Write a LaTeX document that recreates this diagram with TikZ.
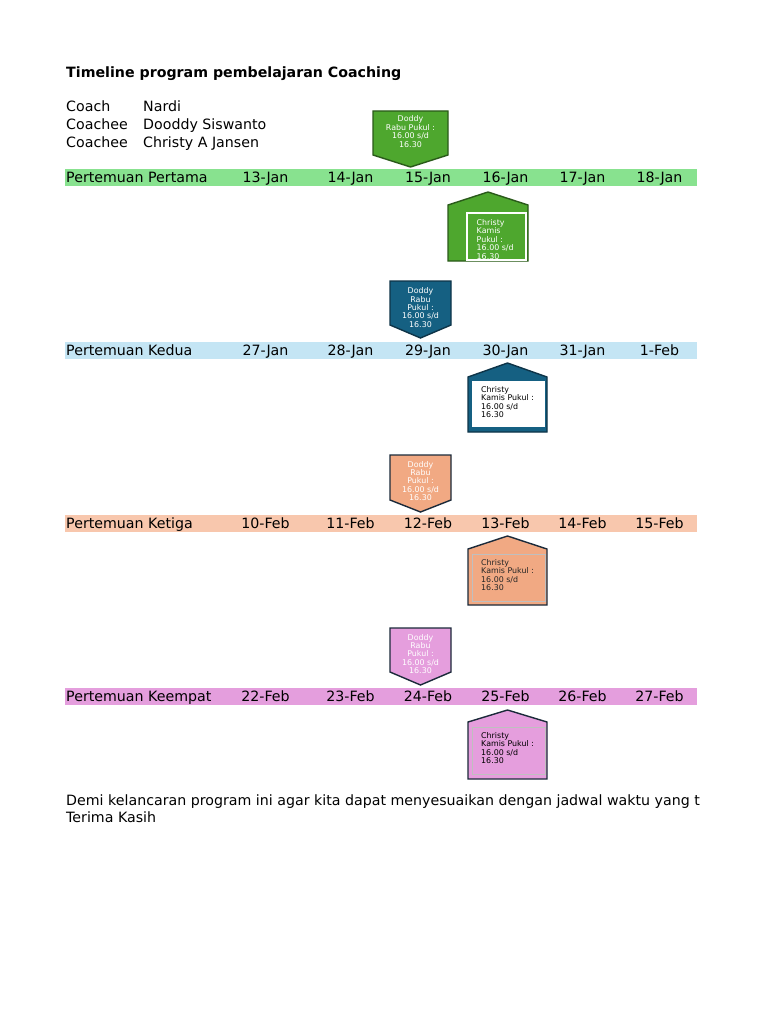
\documentclass[tikz,border=0pt]{standalone}
\usepackage{fontspec}
\setmainfont{DejaVu Sans}
\definecolor{bandA}{HTML}{88E28F}
\definecolor{bandB}{HTML}{C4E5F4}
\definecolor{bandC}{HTML}{F8C7AD}
\definecolor{bandD}{HTML}{E49EDD}
\definecolor{shpA}{HTML}{4EA72E}
\definecolor{edgeA}{HTML}{2A5A1A}
\definecolor{shpB}{HTML}{156082}
\definecolor{edgeB}{HTML}{0E3448}
\definecolor{shpC}{HTML}{F1A983}
\definecolor{shpD}{HTML}{E59EDD}
\definecolor{edgeN}{HTML}{1B2A3A}
\definecolor{innerline}{HTML}{BFBFBF}
\begin{document}
\begin{tikzpicture}[x=1pt,y=-1pt,
  txt/.style={font=\fontsize{14.2}{17.5}\selectfont, inner sep=0pt, anchor=base west},
  dt/.style={font=\fontsize{14.2}{17.5}\selectfont, inner sep=0pt, anchor=base},
  ttl/.style={font=\bfseries\fontsize{14.2}{17.5}\selectfont, inner sep=0pt, anchor=base west},
  small/.style={font=\fontsize{7.9}{8.4}\selectfont, inner sep=0pt},
  dshape/.style={line width=1.4pt, line join=miter},
]
\useasboundingbox[fill=white] (0,0) rectangle (768,1024);

% header
\node[ttl] (title) at (66,78) {Timeline program pembelajaran Coaching};
\node[txt] (l1a) at (66,112) {Coach};
\node[txt] (l1b) at (143,112) {Nardi};
\node[txt] (l2a) at (66,130) {Coachee};
\node[txt] (l2b) at (143,130) {Dooddy Siswanto};
\node[txt] (l3a) at (66,147.5) {Coachee};
\node[txt] (l3b) at (143,147.5) {Christy A Jansen};

% bands
\fill[bandA] (65,169) rectangle (697,186);
\fill[bandB] (65,342) rectangle (697,359);
\fill[bandC] (65,515) rectangle (697,532);
\fill[bandD] (65,688) rectangle (697,705);

% row 1
\node[txt] (r1) at (66,182.5) {Pertemuan Pertama};
\node[dt] (r1a) at (265.5,182.5) {13-Jan};
\node[dt] (r1b) at (350.5,182.5) {14-Jan};
\node[dt] (r1c) at (428,182.5) {15-Jan};
\node[dt] (r1d) at (505.5,182.5) {16-Jan};
\node[dt] (r1e) at (582.5,182.5) {17-Jan};
\node[dt] (r1f) at (659.5,182.5) {18-Jan};
% row 2
\node[txt] (r2) at (66,355.5) {Pertemuan Kedua};
\node[dt] (r2a) at (265.5,355.5) {27-Jan};
\node[dt] (r2b) at (350.5,355.5) {28-Jan};
\node[dt] (r2c) at (428,355.5) {29-Jan};
\node[dt] (r2d) at (505.5,355.5) {30-Jan};
\node[dt] (r2e) at (582.5,355.5) {31-Jan};
\node[dt] (r2f) at (659.5,355.5) {1-Feb};
% row 3
\node[txt] (r3) at (66,528.5) {Pertemuan Ketiga};
\node[dt] (r3a) at (265.5,528.5) {10-Feb};
\node[dt] (r3b) at (350.5,528.5) {11-Feb};
\node[dt] (r3c) at (428,528.5) {12-Feb};
\node[dt] (r3d) at (505.5,528.5) {13-Feb};
\node[dt] (r3e) at (582.5,528.5) {14-Feb};
\node[dt] (r3f) at (659.5,528.5) {15-Feb};
% row 4
\node[txt] (r4) at (66,701.5) {Pertemuan Keempat};
\node[dt] (r4a) at (265.5,701.5) {22-Feb};
\node[dt] (r4b) at (350.5,701.5) {23-Feb};
\node[dt] (r4c) at (428,701.5) {24-Feb};
\node[dt] (r4d) at (505.5,701.5) {25-Feb};
\node[dt] (r4e) at (582.5,701.5) {26-Feb};
\node[dt] (r4f) at (659.5,701.5) {27-Feb};

% ---- shapes, meeting 1 (green)
\draw[dshape, fill=shpA, draw=edgeA] (373,111) -- (448,111) -- (448,155) -- (410.5,167) -- (373,155) -- cycle;
\node[small, text=white, align=center] (d1) at (410.5,131.5) {Doddy\\Rabu Pukul :\\16.00 s/d\\16.30};
\draw[dshape, fill=shpA, draw=edgeA] (448,261) -- (448,205) -- (488,192) -- (528,205) -- (528,261) -- cycle;
\draw[white, line width=1.3pt] (467,213) rectangle (526,260);
\begin{scope}
\clip (467,213) rectangle (526,260);
\node[small, text=white, align=left, anchor=north west] (c1) at (476.5,219.3) {Christy\\Kamis\\Pukul :\\16.00 s/d\\16.30};
\end{scope}

% ---- meeting 2 (blue)
\draw[dshape, fill=shpB, draw=edgeB] (390,281) -- (451,281) -- (451,325) -- (420.5,338) -- (390,325) -- cycle;
\node[small, text=white, align=center] (d2) at (420.5,307.5) {Doddy\\Rabu\\Pukul :\\16.00 s/d\\16.30};
\draw[dshape, fill=shpB, draw=edgeB] (468,432) -- (468,377) -- (507.5,363) -- (547,377) -- (547,432) -- cycle;
\fill[white] (472,381) rectangle (545,427);
\node[small, text=black, align=left, anchor=north west] (c2) at (481,386.3) {Christy\\Kamis Pukul :\\16.00 s/d\\16.30};

% ---- meeting 3 (peach)
\draw[dshape, fill=shpC, draw=edgeN] (390,455) -- (451,455) -- (451,500) -- (420.5,512) -- (390,500) -- cycle;
\node[small, text=white, align=center] (d3) at (420.5,481) {Doddy\\Rabu\\Pukul :\\16.00 s/d\\16.30};
\draw[dshape, fill=shpC, draw=edgeN] (468,605) -- (468,549) -- (507.5,536) -- (547,549) -- (547,605) -- cycle;
\draw[innerline, line width=0.8pt] (472,554) rectangle (545,601);
\node[small, text=black!85, align=left, anchor=north west] (c3) at (481,559.3) {Christy\\Kamis Pukul :\\16.00 s/d\\16.30};

% ---- meeting 4 (pink)
\draw[dshape, fill=shpD, draw=edgeN] (390,628) -- (451,628) -- (451,672) -- (420.5,685) -- (390,672) -- cycle;
\node[small, text=white, align=center] (d4) at (420.5,654) {Doddy\\Rabu\\Pukul :\\16.00 s/d\\16.30};
\draw[dshape, fill=shpD, draw=edgeN] (468,779) -- (468,722) -- (507.5,710) -- (547,722) -- (547,779) -- cycle;
\draw[innerline, line width=0.6pt] (472,727) rectangle (545,774);
\node[small, text=black, align=left, anchor=north west] (c4) at (481,732.3) {Christy\\Kamis Pukul :\\16.00 s/d\\16.30};

% closing text
\node[txt] (f1) at (66,805) {Demi kelancaran program ini agar kita dapat menyesuaikan dengan jadwal waktu yang t};
\node[txt] (f2) at (66,822.5) {Terima Kasih};
\end{tikzpicture}
\end{document}
